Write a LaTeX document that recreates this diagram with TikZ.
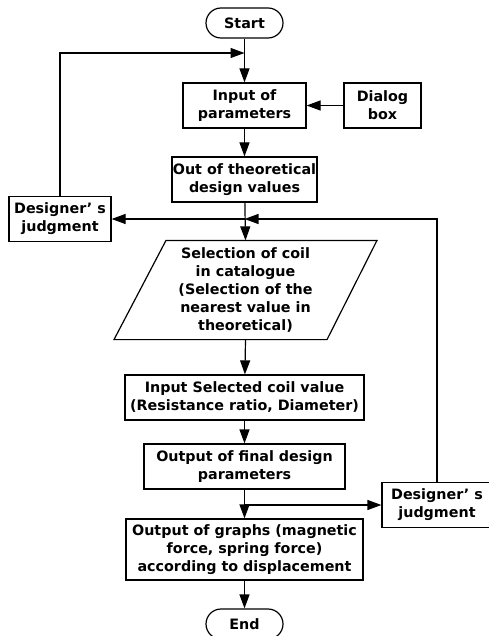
\documentclass[tikz,border=0pt]{standalone}
\usepackage{fontspec}
\setmainfont{DejaVu Sans}
\usepackage{tikz}
\usetikzlibrary{arrows.meta}
\tikzset{
  box/.style={draw,line width=1.2pt,align=center,inner sep=0pt,font=\bfseries\fontsize{14.3pt}{18pt}\selectfont},
  term/.style={box,rounded corners=15pt,minimum width=77pt,minimum height=30pt},
  arr/.style={-{Triangle[length=14pt,width=10pt]},line width=1.2pt},
}

\begin{document}
\begin{tikzpicture}[x=1pt,y=-1pt]
  \useasboundingbox (0,0) rectangle (488,636);

  % main column
  \node[term] (start) at (244.5,23) {Start};
  \node[box,minimum width=123pt,minimum height=45pt] (inp) at (244.5,105.5) {Input of\\parameters};
  \node[box,minimum width=145pt,minimum height=45pt] (out) at (244.5,179.5) {Out of theoretical\\design values};
  \node[box,draw=none,minimum width=160pt,minimum height=98pt] (sel) at (245.5,290)
    {Selection of coil\\in catalogue\\(Selection of the\\nearest value in\\theoretical)};
  \draw[line width=1.2pt] ([xshift=-131.5pt]sel.south) -- ([xshift=81.5pt]sel.south)
    -- ([xshift=131.5pt]sel.north) -- ([xshift=-79.5pt]sel.north) -- cycle;
  \node[box,minimum width=239pt,minimum height=45pt] (isel) at (244.5,397.5) {Input Selected coil value\\(Resistance ratio, Diameter)};
  \node[box,minimum width=201pt,minimum height=45pt] (fin) at (244.5,466.5) {Output of final design\\parameters};
  \node[box,minimum width=237pt,minimum height=61pt] (graph) at (244.5,549.5) {Output of graphs (magnetic\\force, spring force)\\according to displacement};
  \node[term] (end) at (244.5,624) {End};

  % side boxes
  \node[box,minimum width=77pt,minimum height=45pt] (dlg) at (382.5,105.5) {Dialog\\box};
  \node[box,minimum width=102pt,minimum height=45pt] (judgL) at (60,219) {Designer’~s\\judgment};
  \node[box,minimum width=110pt,minimum height=45pt] (judgR) at (437,505) {Designer’~s\\judgment};

  \coordinate (jTop) at (244.5,53);
  \coordinate (jMid) at (244.5,219);
  \coordinate (jLow) at (244.5,505);

  % connectors
  \draw[arr] (start) -- (inp);
  \draw[arr] (judgL.north) |- (jTop);
  \draw[arr] (dlg) -- (inp);
  \draw[arr] (inp) -- (out);
  \draw[arr] (out) -- (sel.north);
  \draw[arr] (jMid) -- (judgL.east);
  \draw[arr] (judgR.north) |- (jMid);
  \draw[arr] (sel.south) -- (isel);
  \draw[arr] (isel) -- (fin);
  \draw[arr] (fin) -- (graph);
  \draw[arr] (jLow) -- (judgR.west);
  \draw[arr] (graph) -- (end);
\end{tikzpicture}
\end{document}
